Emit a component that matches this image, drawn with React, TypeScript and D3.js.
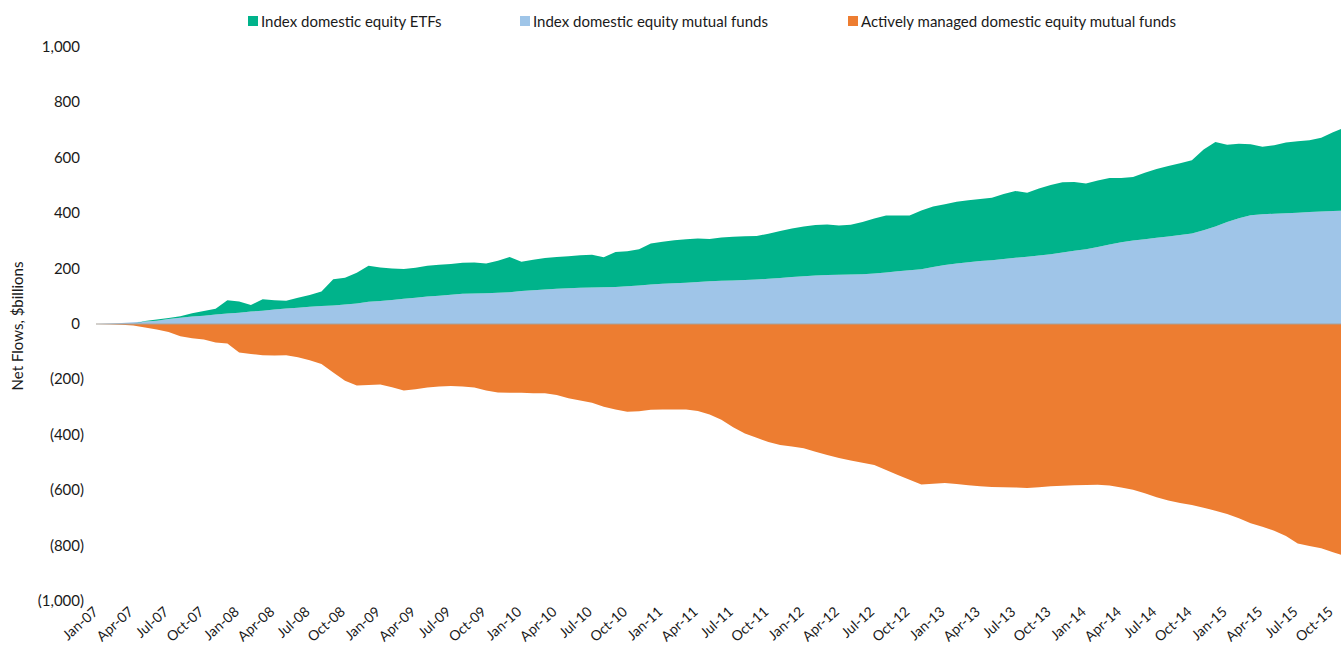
import React from "react";
import * as d3 from "d3";

// Monthly data Jan-07 .. Nov-15 ($ billions, cumulative net flows)
const indexMutualFunds = [
  0, 2, 4, 6, 9, 12, 18, 23, 27, 30, 34, 38,
  41, 45, 48, 52, 56, 59, 62, 65, 67, 70, 74, 80,
  83, 87, 91, 95, 99, 102, 106, 109, 110, 111, 113, 115,
  119, 122, 125, 127, 129, 131, 132, 133, 134, 136, 139, 143,
  145, 147, 149, 152, 154, 156, 157, 159, 161, 163, 166, 170,
  172, 175, 177, 178, 179, 180, 182, 186, 190, 194, 198, 206,
  213, 218, 223, 227, 230, 235, 239, 243, 247, 252, 258, 264,
  270, 278, 287, 295, 301, 306, 311, 316, 321, 327, 338, 352,
  368, 382, 393, 396, 398, 400, 402, 404, 406, 408, 409,
];

const indexETFs = [
  0, 0, 0, 0, 2, 4, 4, 5, 12, 17, 21, 48,
  40, 24, 41, 34, 28, 36, 43, 52, 95, 97, 111, 130,
  121, 113, 108, 108, 111, 112, 111, 112, 112, 107, 115, 127,
  106, 110, 113, 115, 116, 117, 118, 108, 126, 127, 131, 148,
  152, 155, 157, 157, 153, 156, 158, 158, 157, 163, 170, 175,
  180, 182, 182, 178, 179, 188, 199, 206, 202, 198, 212, 218,
  219, 223, 224, 224, 226, 234, 241, 231, 242, 250, 254, 249,
  237, 240, 240, 232, 230, 240, 249, 254, 259, 264, 292, 305,
  279, 269, 256, 244, 247, 255, 258, 259, 266, 284, 301,
];

const activeMutualFunds = [
  0, -1, -3, -5, -13, -20, -29, -44, -51, -56, -67, -70,
  -103, -108, -113, -114, -113, -120, -131, -144, -175, -205, -222, -220,
  -218, -228, -240, -236, -229, -226, -224, -226, -229, -240, -247, -248,
  -248, -250, -250, -256, -268, -276, -284, -299, -309, -317, -315, -310,
  -309, -309, -309, -314, -327, -346, -373, -395, -411, -426, -437, -442,
  -449, -461, -473, -484, -493, -501, -509, -527, -545, -562, -579, -577,
  -574, -578, -582, -586, -588, -589, -590, -592, -589, -586, -584, -582,
  -581, -580, -583, -590, -598, -611, -625, -637, -646, -653, -663, -674,
  -686, -701, -719, -732, -746, -765, -792, -801, -810, -824, -837,
];

const tickLabels = [
  "Jan-07", "Apr-07", "Jul-07", "Oct-07", "Jan-08", "Apr-08", "Jul-08", "Oct-08",
  "Jan-09", "Apr-09", "Jul-09", "Oct-09", "Jan-10", "Apr-10", "Jul-10", "Oct-10",
  "Jan-11", "Apr-11", "Jul-11", "Oct-11", "Jan-12", "Apr-12", "Jul-12", "Oct-12",
  "Jan-13", "Apr-13", "Jul-13", "Oct-13", "Jan-14", "Apr-14", "Jul-14", "Oct-14",
  "Jan-15", "Apr-15", "Jul-15", "Oct-15",
];

const yTicks = [1000, 800, 600, 400, 200, 0, -200, -400, -600, -800, -1000];

const seriesNames = [
  "Index domestic equity ETFs",
  "Index domestic equity mutual funds",
  "Actively managed domestic equity mutual funds",
];
const colors = ["#00B38B", "#9FC5E8", "#ED7D31"];

const W = 1341;
const H = 651;
const FONT = "Lato, 'Open Sans', sans-serif";

export default function App() {
  const x = d3.scaleLinear().domain([0, 105]).range([98, 1333]);
  const y = d3.scaleLinear().domain([-1000, 1000]).range([601, 47]);

  const rows = indexMutualFunds.map((mf, i) => ({
    i,
    mf,
    etf: indexETFs[i],
    active: activeMutualFunds[i],
  }));

  const stack = d3
    .stack<any>()
    .keys(["mf", "etf", "active"])
    .offset(d3.stackOffsetDiverging);
  const stacked = stack(rows);

  const area = d3
    .area<any>()
    .x((d) => x(d.data.i))
    .y0((d) => y(d[0]))
    .y1((d) => y(d[1]))
    .curve(d3.curveLinear);

  const colorByKey: Record<string, string> = {
    etf: colors[0],
    mf: colors[1],
    active: colors[2],
  };

  const fmt = (v: number) => {
    const s = d3.format(",")(Math.abs(v));
    return v < 0 ? `(${s})` : s;
  };

  const legendItems = [
    { name: seriesNames[0], color: colors[0], x: 248 },
    { name: seriesNames[1], color: colors[1], x: 520 },
    { name: seriesNames[2], color: colors[2], x: 848 },
  ];

  return (
    <svg
      width={W}
      height={H}
      style={{ position: "absolute", left: 0, top: 0, background: "#fff" }}
      fontFamily={FONT}
    >
      <defs>
        <clipPath id="plotClip">
          <rect x={0} y={0} width={W} height={H} />
        </clipPath>
      </defs>

      {/* legend */}
      {legendItems.map((it) => (
        <g key={it.name}>
          <rect x={it.x} y={16} width={10} height={10} fill={it.color} />
          <text x={it.x + 13} y={26.5} fontSize={15} fill="#1a1a1a">
            {it.name}
          </text>
        </g>
      ))}

      {/* areas */}
      <g clipPath="url(#plotClip)">
        {stacked.map((s) => (
          <path key={s.key} d={area(s as any) || ""} fill={colorByKey[s.key]} />
        ))}
        <line
          x1={x(0) - 2}
          x2={W}
          y1={y(0)}
          y2={y(0)}
          stroke="#A8A29A"
          strokeWidth={1.2}
        />
      </g>

      {/* y axis labels */}
      {yTicks.map((t) => (
        <text
          key={t}
          x={t < 0 ? 84 : 80}
          y={y(t) + 5}
          fontSize={15}
          textAnchor="end"
          fill="#1a1a1a"
        >
          {fmt(t)}
        </text>
      ))}

      {/* y axis title */}
      <text
        transform={`translate(23, ${y(0) + 2}) rotate(-90)`}
        textAnchor="middle"
        fontSize={15}
        fill="#1a1a1a"
      >
        Net Flows, $billions
      </text>

      {/* x tick labels */}
      {tickLabels.map((lab, k) => (
        <text
          key={lab}
          transform={`translate(${x(k * 3) + 1}, 613) rotate(-42)`}
          textAnchor="end"
          fontSize={14}
          fill="#1a1a1a"
        >
          {lab}
        </text>
      ))}
    </svg>
  );
}
